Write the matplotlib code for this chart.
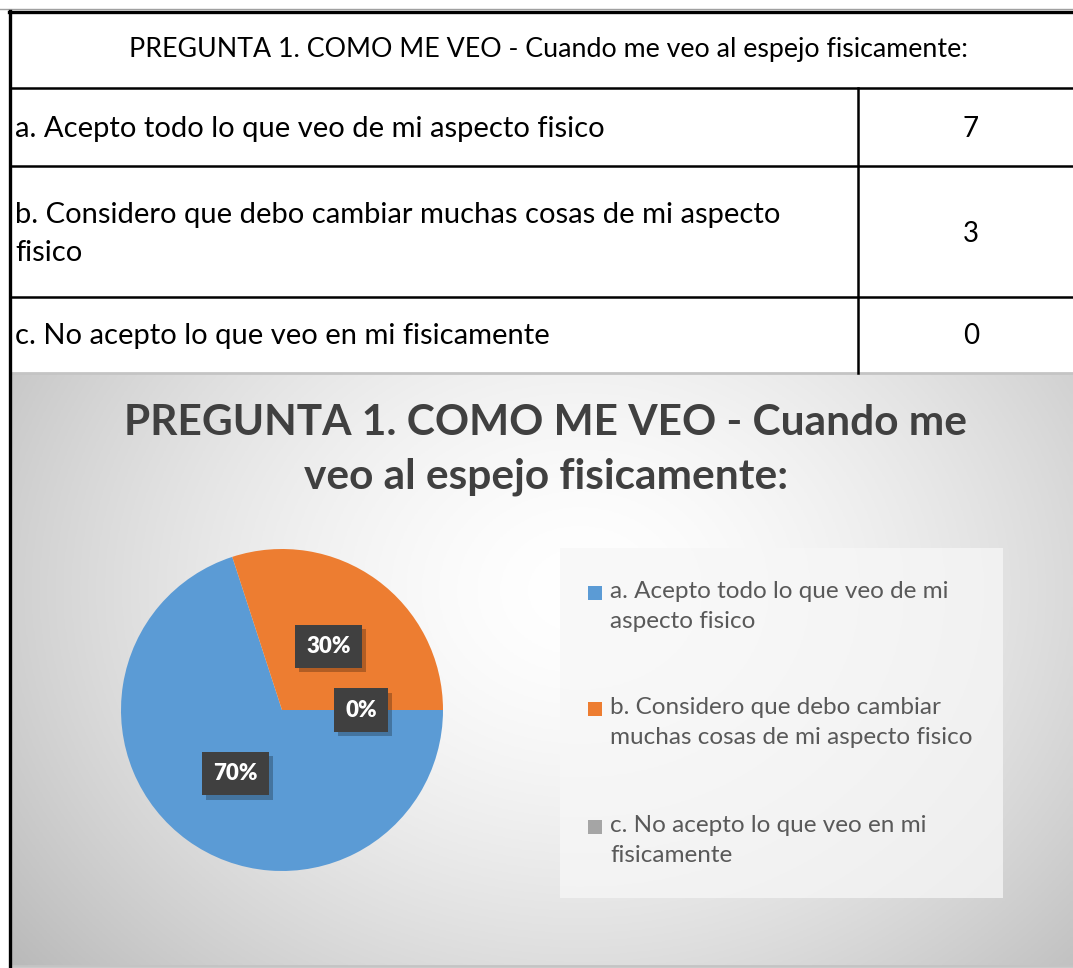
import numpy as np
import matplotlib
matplotlib.use("Agg")
import matplotlib.pyplot as plt
from matplotlib.lines import Line2D
from matplotlib.patches import Rectangle
import matplotlib.patheffects as pe

# ---- data ----
question = "PREGUNTA 1. COMO ME VEO - Cuando me veo al espejo fisicamente:"
chart_title = "PREGUNTA 1. COMO ME VEO - Cuando me\nveo al espejo fisicamente:"
table_labels = ["a. Acepto todo lo que veo de mi aspecto fisico",
                "b. Considero que debo cambiar muchas cosas de mi aspecto\nfisico",
                "c. No acepto lo que veo en mi fisicamente"]
legend_labels = ["a. Acepto todo lo que veo de mi\naspecto fisico",
                 "b. Considero que debo cambiar\nmuchas cosas de mi aspecto fisico",
                 "c. No acepto lo que veo en mi\nfisicamente"]
counts = [7, 3, 0]
colors = ["#5B9BD5", "#ED7D31", "#A5A5A5"]

W, H = 1073, 968
fig = plt.figure(figsize=(W / 100, H / 100), dpi=100)
fig.patch.set_facecolor("white")
FONT = ["Lato", "DejaVu Sans"]

def fx(x):
    return x / W

def fy(y):
    return 1 - y / H

# ---- chart background (radial gradient) ----
cx0, cy0, cx1, cy1 = 11, 374, 1073, 966
bg = fig.add_axes([fx(cx0), fy(cy1), fx(cx1 - cx0), (cy1 - cy0) / H])
gx = np.linspace(cx0, cx1, 300)
gy = np.linspace(cy0, cy1, 200)
X, Y = np.meshgrid(gx, gy)
d = np.sqrt(((X - 580) / 640) ** 2 + ((Y - 590) / 520) ** 2)
v = 1.0 - 0.22 * np.clip(d, 0, 1.2) ** 1.6
img = np.dstack([v, v, v])
bg.imshow(np.clip(img, 0, 1), extent=[0, 1, 0, 1], aspect="auto", origin="upper")
bg.set_xlim(0, 1)
bg.set_ylim(0, 1)
bg.axis("off")

fig.add_artist(Line2D([fx(cx0), fx(W)], [fy(373), fy(373)], color="#c4c4c4", lw=2))
fig.add_artist(Line2D([fx(cx0), fx(W)], [fy(966), fy(966)], color="#c4c4c4", lw=2))

# ---- table ----
fig.add_artist(Line2D([0, 1], [fy(9), fy(9)], color="#a0a0a0", lw=1))
fig.add_artist(Line2D([fx(9), 1], [fy(12), fy(12)], color="black", lw=2.4))
fig.add_artist(Line2D([fx(10), fx(10)], [fy(11), 0], color="black", lw=2.4))
for yy in [88, 166, 297]:
    fig.add_artist(Line2D([fx(10), 1], [fy(yy), fy(yy)], color="black", lw=1.8))
fig.add_artist(Line2D([fx(858), fx(858)], [fy(88), fy(373)], color="black", lw=1.8))

fig.text(fx(548), fy(50), question, ha="center", va="center",
         fontsize=19.3, family=FONT, color="black")
row_y = [129, 234, 336]
for lab, c, yy in zip(table_labels, counts, row_y):
    fig.text(fx(15), fy(yy), lab, ha="left", va="center", fontsize=21,
             family=FONT, color="black", linespacing=1.55)
    fig.text(fx(971), fy(yy), str(c), ha="center", va="center", fontsize=20,
             family=FONT, color="black")

# ---- chart title ----
fig.text(fx(546), fy(450), chart_title, ha="center", va="center",
         fontsize=30.5, fontweight="bold", family=FONT, color="#404040",
         linespacing=1.5)

# ---- pie ----
pcx, pcy, r = 282, 710, 161
ax = fig.add_axes([fx(pcx - r), fy(pcy + r), fx(2 * r), 2 * r / H])
wedges, texts, autotexts = ax.pie(
    counts, colors=colors, startangle=0, counterclock=False, radius=1,
    autopct=lambda p: f"{p:.0f}%", pctdistance=0.49,
    wedgeprops=dict(linewidth=0))
ax.set_xlim(-1, 1)
ax.set_ylim(-1, 1)
ax.set_aspect("equal")
ax.axis("off")
for t in autotexts:
    t.set_color("white")
    t.set_fontsize(16)
    t.set_fontweight("heavy")
    t.set_family(FONT)
    t.set_bbox(dict(boxstyle="square,pad=0.5", facecolor="#404040", edgecolor="none"))
    t.get_bbox_patch().set_path_effects(
        [pe.withSimplePatchShadow(offset=(3, -3), shadow_rgbFace="black", alpha=0.25), pe.Normal()])
    t.set_zorder(5)
    t.set_clip_on(False)

# ---- legend ----
lx0, ly0, lx1, ly1 = 560, 548, 1003, 898
fig.add_artist(Rectangle((fx(lx0), fy(ly1)), fx(lx1 - lx0), (ly1 - ly0) / H,
                         facecolor="#f7f7f7", edgecolor="none", alpha=0.75,
                         transform=fig.transFigure))
leg_y = [593, 709, 827]
for lab, col, yy in zip(legend_labels, colors, leg_y):
    fig.add_artist(Rectangle((fx(588), fy(yy + 7)), fx(14), 14 / H,
                             facecolor=col, edgecolor="none", transform=fig.transFigure))
    fig.text(fx(610), fy(yy - 12), lab, ha="left", va="top", fontsize=17.5,
             family=FONT, color="#595959", linespacing=1.55)

fig.savefig("out.png", dpi=100)
